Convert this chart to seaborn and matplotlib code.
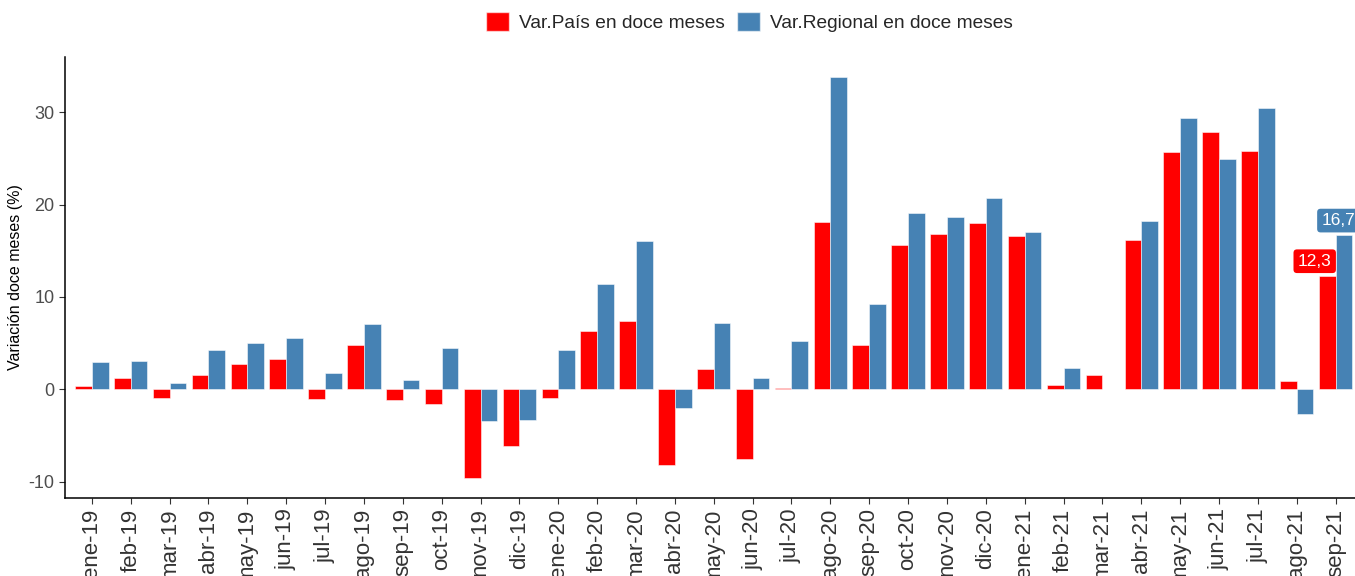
import pandas as pd
import matplotlib.pyplot as plt
import seaborn as sns

# ============================================================
# DATA
# ============================================================

meses = ["ene-19", "feb-19", "mar-19", "abr-19", "may-19", "jun-19", "jul-19",
         "ago-19", "sep-19", "oct-19", "nov-19", "dic-19", "ene-20", "feb-20",
         "mar-20", "abr-20", "may-20", "jun-20", "jul-20", "ago-20", "sep-20",
         "oct-20", "nov-20", "dic-20", "ene-21", "feb-21", "mar-21", "abr-21",
         "may-21", "jun-21", "jul-21", "ago-21", "sep-21"]

var_pais = [0.4, 1.2, -0.9, 1.6, 2.7, 3.3, -1.0, 4.8, -1.2, -1.6, -9.6, -6.1,
            -0.9, 6.3, 7.4, -8.2, 2.2, -7.6, 0.1, 18.1, 4.8, 15.6, 16.8, 18.0,
            16.6, 0.5, 1.6, 16.2, 25.7, 27.8, 25.8, 0.9, 12.3]

var_regional = [3.0, 3.1, 0.7, 4.2, 5.0, 5.6, 1.8, 7.1, 1.0, 4.5, -3.4, -3.3,
                4.3, 11.4, 16.0, -2.0, 7.2, 1.2, 5.2, 33.8, 9.2, 19.1, 18.7, 20.7,
                17.0, 2.3, 0.05, 18.2, 29.4, 24.9, 30.4, -2.7, 16.7]

SERIES = ["Var.País en doce meses", "Var.Regional en doce meses"]
RED = "#FF0000"
BLUE = "#4682B4"

df = pd.DataFrame({"Mes": meses, SERIES[0]: var_pais, SERIES[1]: var_regional})
df_long = df.melt(id_vars="Mes", var_name="Serie", value_name="Valor")

# ============================================================
# STYLE
# ============================================================

sns.set_theme(style="ticks")
plt.rcParams["font.family"] = ["Liberation Sans", "DejaVu Sans"]
plt.rcParams["axes.unicode_minus"] = False

fig = plt.figure(figsize=(13.55, 5.76), dpi=100)
ax = fig.add_axes([0.048, 0.1354, 0.952, 0.7656])

sns.barplot(
    data=df_long,
    x="Mes",
    y="Valor",
    hue="Serie",
    order=meses,
    hue_order=SERIES,
    palette=[RED, BLUE],
    saturation=1,
    width=0.86,
    edgecolor=(1, 1, 1, 0.6),
    linewidth=0.6,
    ax=ax,
)

# Last-month value labels
for cont, color, vals, dx in zip(ax.containers, [RED, BLUE], [var_pais, var_regional], [-9, -4]):
    bar = cont[-1]
    ax.annotate(
        f"{vals[-1]:.1f}".replace(".", ","),
        xy=(bar.get_x() + bar.get_width() / 2, bar.get_height()),
        xytext=(dx, 5), textcoords="offset points",
        ha="center", va="bottom", color="white", fontsize=12.5,
        bbox=dict(boxstyle="round,pad=0.25,rounding_size=0.2", fc=color, ec="none"),
        annotation_clip=False,
    )

ax.set_xlim(-0.69, 32.5)
ax.set_ylim(-11.77, 35.97)
ax.set_yticks([-10, 0, 10, 20, 30])
ax.set_xlabel("")
ax.set_ylabel("Variación doce meses (%)", fontsize=11.5, color="black")

sns.despine(ax=ax)
for s in ["left", "bottom"]:
    ax.spines[s].set_color("black")
    ax.spines[s].set_linewidth(1.1)

ax.tick_params(axis="y", labelsize=13, colors="#333333", length=4, width=0.8, labelcolor="#4D4D4D")
ax.tick_params(axis="x", labelsize=16, colors="#333333", length=4, width=0.8, labelcolor="#333333")
plt.setp(ax.get_xticklabels(), rotation=90, va="top", ha="center")

# Legend on top
ax.get_legend().remove()
handles = [plt.Rectangle((0, 0), 1, 1, fc=c, ec=(1, 1, 1, 0.6)) for c in [RED, BLUE]]
fig.legend(handles, SERIES, loc="center", bbox_to_anchor=(0.553, 0.962), ncol=2,
           frameon=False, fontsize=13.8, handlelength=1.2, handleheight=1.2,
           handletextpad=0.55, columnspacing=0.6)

plt.savefig("out.png", dpi=100)
